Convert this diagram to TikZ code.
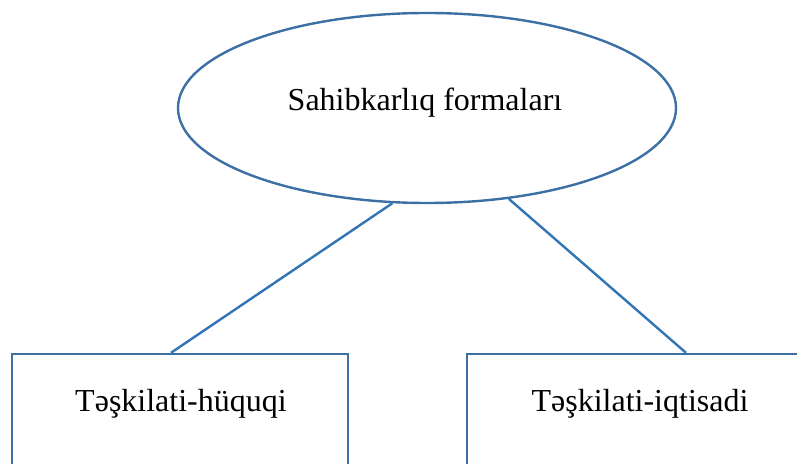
\documentclass[tikz,border=0pt]{standalone}
\usepackage{fontspec}
\setmainfont{Liberation Serif}
\usetikzlibrary{shapes.geometric,calc}
\definecolor{edgeblue}{RGB}{60,112,165}
\definecolor{linkblue}{RGB}{50,117,182}
\tikzset{
  shapeline/.style={draw=edgeblue, line width=2.4pt},
  oval/.style={shapeline, ellipse, minimum width=498pt, minimum height=190pt, inner sep=0pt},
  boxshape/.style={shapeline, rectangle, inner sep=0pt},
  label text/.style={font=\fontsize{32}{38}\selectfont, anchor=base, inner sep=0pt},
  link/.style={draw=linkblue, line width=2.4pt}
}
\begin{document}
\begin{tikzpicture}[x=1pt,y=1pt]
\useasboundingbox (0,0) rectangle (797,463);
\clip (0,0) rectangle (797,463);
\fill[white] (0,0) rectangle (797,463);
% ellipse: center (427,108) in image coords
\node[oval] (e) at (427,355) {};
\node[label text] (et) at (425,352) {Sahibkarlıq formaları};
% boxes
\node[boxshape, minimum width=336pt, minimum height=160pt] (lb) at (180,29) {};
\node[boxshape, minimum width=346pt, minimum height=160pt] (rb) at (640,29) {};
\node[label text] (lt) at (181,52) {Təşkilati-hüquqi};
\node[label text] (rt) at (640,52) {Təşkilati-iqtisadi};
% connectors
\draw[link] (e.-110.8) -- ($(lb.north)+(-9,0)$);
\draw[link] (e.-48.7) -- ($(rb.north)+(46,0)$);
\end{tikzpicture}
\end{document}
